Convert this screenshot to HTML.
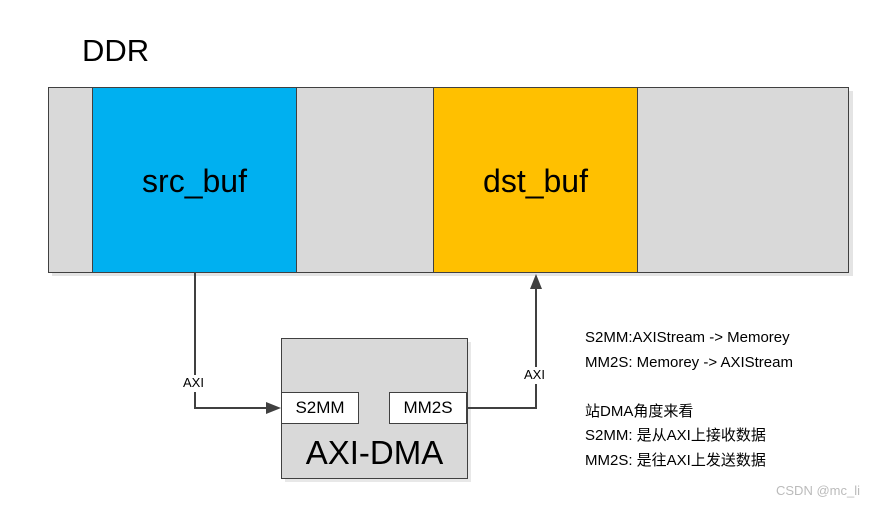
<!DOCTYPE html>
<html><head><style>
body{margin:0;width:878px;height:505px;background:#fff;position:relative;overflow:hidden;font-family:"Liberation Sans","Noto Sans CJK SC",sans-serif;}
.a{position:absolute;box-sizing:border-box;}
.t{position:absolute;white-space:nowrap;color:#000;}
</style></head><body>
<div class="t" style="left:82px;top:33px;font-size:31px;">DDR</div>
<div class="a" style="left:52px;top:91px;width:801px;height:185px;background:#e4e4e4;"></div>
<div class="a" style="left:48px;top:87px;width:801px;height:186px;background:#d9d9d9;border:1px solid #404040;"></div>
<div class="a" style="left:92px;top:87px;width:205px;height:186px;background:#00b0f0;border:1px solid #404040;"></div>
<div class="a" style="left:433px;top:87px;width:205px;height:186px;background:#ffc000;border:1px solid #404040;"></div>
<div class="t" style="left:92px;width:205px;text-align:center;top:163px;font-size:32px;">src_buf</div>
<div class="t" style="left:433px;width:205px;text-align:center;top:163px;font-size:32px;">dst_buf</div>
<div class="a" style="left:285px;top:342px;width:186px;height:140px;background:#e8e8e8;"></div>
<div class="a" style="left:281px;top:338px;width:187px;height:141px;background:#d9d9d9;border:1px solid #404040;"></div>
<div class="a" style="left:281px;top:392px;width:78px;height:32px;background:#fff;border:1px solid #404040;font-size:17px;text-align:center;line-height:30px;">S2MM</div>
<div class="a" style="left:389px;top:392px;width:78px;height:32px;background:#fff;border:1px solid #404040;font-size:17px;text-align:center;line-height:30px;">MM2S</div>
<div class="t" style="left:281px;width:187px;text-align:center;top:434px;font-size:33px;">AXI-DMA</div>
<svg class="a" style="left:0;top:0" width="878" height="505">
<polyline points="195,273 195,408 270,408" fill="none" stroke="#404040" stroke-width="2"/>
<polygon points="281,408 266,402 266,414" fill="#404040"/>
<polyline points="468,408 536,408 536,285" fill="none" stroke="#404040" stroke-width="2"/>
<polygon points="536,274 530,289 542,289" fill="#404040"/>
<rect x="180" y="375" width="32" height="17" fill="#fff"/>
<rect x="520" y="367" width="32" height="17" fill="#fff"/>
</svg>
<div class="t" style="left:183px;top:375px;font-size:13px;">AXI</div>
<div class="t" style="left:524px;top:367px;font-size:13px;">AXI</div>
<div class="t" style="left:585px;top:326px;font-size:15px;line-height:24.5px;">S2MM:AXIStream -&gt; Memorey<br>MM2S: Memorey -&gt; AXIStream<br><br>站DMA角度来看<br>S2MM: 是从AXI上接收数据<br>MM2S: 是往AXI上发送数据</div>
<div class="t" style="left:776px;top:483px;font-size:13px;color:#bbb;">CSDN @mc_li</div>
</body></html>
